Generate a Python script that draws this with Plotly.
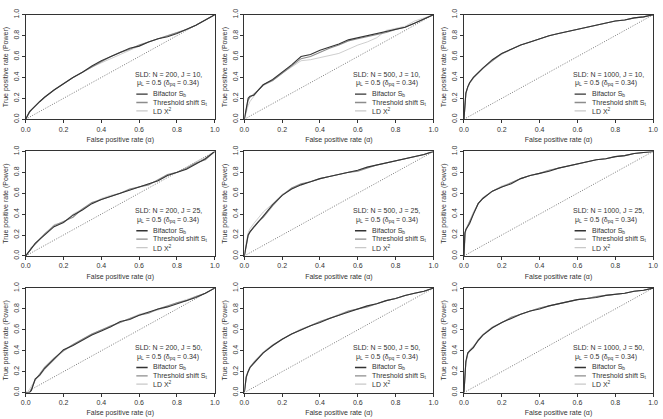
import plotly.graph_objects as go

# Shared false-positive-rate grid
FPR = [0, 0.005, 0.01, 0.02, 0.03, 0.05, 0.075, 0.1, 0.15, 0.2, 0.25, 0.3, 0.35,
       0.4, 0.45, 0.5, 0.55, 0.6, 0.65, 0.7, 0.75, 0.8, 0.85, 0.9, 0.95, 1.0]

N_VALUES = [200, 500, 1000]
J_VALUES = [10, 25, 50]

# TPR per panel (row = J, col = N), series: Bifactor, Threshold shift, LD X2
BF_200_10 = [0, 0.02, 0.04, 0.07, 0.09, 0.13, 0.17, 0.21, 0.28, 0.34, 0.40, 0.45, 0.51, 0.56, 0.60, 0.64, 0.68, 0.70, 0.74, 0.77, 0.79, 0.82, 0.86, 0.90, 0.95, 1]
TS_200_10 = [0, 0.02, 0.04, 0.07, 0.09, 0.13, 0.17, 0.21, 0.28, 0.34, 0.40, 0.45, 0.50, 0.55, 0.60, 0.64, 0.67, 0.71, 0.74, 0.77, 0.80, 0.83, 0.86, 0.90, 0.95, 1]
LD_200_10 = [0, 0.02, 0.04, 0.06, 0.09, 0.12, 0.17, 0.21, 0.28, 0.34, 0.40, 0.45, 0.50, 0.54, 0.58, 0.62, 0.66, 0.70, 0.74, 0.77, 0.80, 0.83, 0.86, 0.90, 0.95, 1]

BF_500_10 = [0, 0.06, 0.12, 0.20, 0.22, 0.23, 0.28, 0.33, 0.38, 0.45, 0.52, 0.60, 0.62, 0.66, 0.69, 0.72, 0.76, 0.78, 0.80, 0.82, 0.84, 0.86, 0.88, 0.92, 0.96, 1]
TS_500_10 = [0, 0.05, 0.10, 0.18, 0.21, 0.24, 0.28, 0.33, 0.37, 0.44, 0.51, 0.58, 0.60, 0.64, 0.68, 0.71, 0.75, 0.77, 0.79, 0.81, 0.83, 0.86, 0.88, 0.92, 0.96, 1]
LD_500_10 = [0, 0.04, 0.08, 0.13, 0.17, 0.22, 0.28, 0.32, 0.37, 0.44, 0.50, 0.56, 0.57, 0.59, 0.61, 0.63, 0.67, 0.71, 0.74, 0.78, 0.85, 0.87, 0.89, 0.94, 0.97, 1]

BF_1000_10 = [0, 0.18, 0.25, 0.31, 0.35, 0.40, 0.45, 0.49, 0.57, 0.63, 0.67, 0.71, 0.74, 0.77, 0.80, 0.82, 0.84, 0.86, 0.88, 0.90, 0.92, 0.94, 0.95, 0.97, 0.98, 1]
TS_1000_10 = [0, 0.17, 0.25, 0.31, 0.35, 0.40, 0.45, 0.49, 0.56, 0.63, 0.67, 0.71, 0.74, 0.77, 0.80, 0.82, 0.84, 0.86, 0.88, 0.90, 0.92, 0.94, 0.95, 0.97, 0.98, 1]
LD_1000_10 = [0, 0.16, 0.24, 0.30, 0.34, 0.39, 0.44, 0.48, 0.56, 0.62, 0.67, 0.71, 0.74, 0.77, 0.80, 0.82, 0.84, 0.86, 0.88, 0.90, 0.92, 0.94, 0.95, 0.97, 0.98, 1]

BF_200_25 = [0, 0.01, 0.03, 0.05, 0.07, 0.12, 0.16, 0.20, 0.28, 0.32, 0.39, 0.44, 0.50, 0.54, 0.57, 0.60, 0.63, 0.66, 0.69, 0.72, 0.77, 0.80, 0.83, 0.88, 0.93, 1]
TS_200_25 = [0, 0.01, 0.03, 0.05, 0.08, 0.11, 0.16, 0.21, 0.29, 0.33, 0.37, 0.45, 0.51, 0.54, 0.57, 0.60, 0.64, 0.66, 0.68, 0.73, 0.78, 0.80, 0.84, 0.89, 0.92, 1]
LD_200_25 = [0, 0.01, 0.02, 0.04, 0.07, 0.12, 0.17, 0.20, 0.30, 0.32, 0.40, 0.45, 0.50, 0.55, 0.58, 0.60, 0.63, 0.66, 0.69, 0.72, 0.77, 0.80, 0.84, 0.90, 0.94, 1]

BF_500_25 = [0, 0.06, 0.12, 0.20, 0.23, 0.27, 0.32, 0.38, 0.49, 0.58, 0.64, 0.68, 0.71, 0.74, 0.76, 0.78, 0.80, 0.82, 0.85, 0.87, 0.89, 0.91, 0.93, 0.95, 0.97, 1]
TS_500_25 = [0, 0.05, 0.10, 0.19, 0.23, 0.28, 0.33, 0.37, 0.48, 0.58, 0.65, 0.69, 0.71, 0.74, 0.76, 0.78, 0.80, 0.81, 0.84, 0.87, 0.89, 0.91, 0.93, 0.95, 0.97, 1]
LD_500_25 = [0, 0.07, 0.13, 0.22, 0.26, 0.31, 0.36, 0.42, 0.50, 0.59, 0.64, 0.68, 0.71, 0.74, 0.76, 0.78, 0.80, 0.82, 0.85, 0.87, 0.89, 0.91, 0.93, 0.95, 0.97, 1]

BF_1000_25 = [0, 0.22, 0.25, 0.28, 0.31, 0.40, 0.50, 0.55, 0.62, 0.66, 0.69, 0.74, 0.77, 0.79, 0.81, 0.84, 0.86, 0.88, 0.90, 0.92, 0.93, 0.95, 0.96, 0.98, 0.99, 1]
TS_1000_25 = [0, 0.21, 0.25, 0.29, 0.32, 0.41, 0.50, 0.55, 0.62, 0.66, 0.70, 0.74, 0.77, 0.79, 0.82, 0.84, 0.86, 0.88, 0.90, 0.92, 0.93, 0.95, 0.96, 0.98, 0.99, 1]
LD_1000_25 = [0, 0.20, 0.26, 0.29, 0.33, 0.42, 0.50, 0.56, 0.62, 0.67, 0.70, 0.74, 0.77, 0.79, 0.82, 0.84, 0.86, 0.88, 0.90, 0.92, 0.93, 0.95, 0.96, 0.98, 0.99, 1]

BF_200_50 = [0, 0, 0, 0, 0.02, 0.13, 0.17, 0.23, 0.32, 0.41, 0.45, 0.50, 0.55, 0.59, 0.63, 0.68, 0.70, 0.74, 0.77, 0.80, 0.82, 0.85, 0.88, 0.91, 0.95, 1]
TS_200_50 = [0, 0, 0, 0, 0.03, 0.12, 0.18, 0.24, 0.33, 0.40, 0.46, 0.51, 0.56, 0.60, 0.64, 0.67, 0.71, 0.74, 0.76, 0.80, 0.83, 0.86, 0.88, 0.92, 0.95, 1]
LD_200_50 = [0, 0, 0, 0.03, 0.06, 0.12, 0.16, 0.22, 0.31, 0.40, 0.45, 0.51, 0.56, 0.60, 0.63, 0.67, 0.71, 0.75, 0.77, 0.79, 0.82, 0.86, 0.89, 0.92, 0.95, 1]

BF_500_50 = [0, 0.08, 0.15, 0.20, 0.24, 0.28, 0.33, 0.38, 0.45, 0.51, 0.56, 0.60, 0.64, 0.67, 0.71, 0.74, 0.77, 0.80, 0.83, 0.85, 0.88, 0.90, 0.93, 0.95, 0.97, 1]
TS_500_50 = [0, 0.07, 0.14, 0.20, 0.24, 0.29, 0.34, 0.38, 0.45, 0.51, 0.56, 0.60, 0.64, 0.68, 0.71, 0.74, 0.78, 0.80, 0.82, 0.85, 0.88, 0.90, 0.93, 0.95, 0.97, 1]
LD_500_50 = [0, 0.09, 0.16, 0.21, 0.25, 0.29, 0.34, 0.39, 0.46, 0.51, 0.56, 0.61, 0.64, 0.68, 0.71, 0.75, 0.78, 0.80, 0.83, 0.85, 0.88, 0.90, 0.93, 0.95, 0.97, 1]

BF_1000_50 = [0, 0.20, 0.30, 0.38, 0.40, 0.43, 0.50, 0.55, 0.62, 0.67, 0.71, 0.75, 0.78, 0.80, 0.83, 0.85, 0.87, 0.89, 0.90, 0.91, 0.93, 0.94, 0.95, 0.97, 0.98, 1]
TS_1000_50 = [0, 0.19, 0.29, 0.37, 0.40, 0.44, 0.50, 0.55, 0.62, 0.67, 0.72, 0.75, 0.78, 0.81, 0.83, 0.85, 0.87, 0.89, 0.90, 0.92, 0.93, 0.94, 0.95, 0.97, 0.98, 1]
LD_1000_50 = [0, 0.18, 0.28, 0.37, 0.41, 0.44, 0.51, 0.56, 0.63, 0.67, 0.72, 0.75, 0.78, 0.81, 0.83, 0.85, 0.87, 0.89, 0.90, 0.92, 0.93, 0.94, 0.95, 0.97, 0.98, 1]

PANELS = {
    (10, 200): (BF_200_10, TS_200_10, LD_200_10),
    (10, 500): (BF_500_10, TS_500_10, LD_500_10),
    (10, 1000): (BF_1000_10, TS_1000_10, LD_1000_10),
    (25, 200): (BF_200_25, TS_200_25, LD_200_25),
    (25, 500): (BF_500_25, TS_500_25, LD_500_25),
    (25, 1000): (BF_1000_25, TS_1000_25, LD_1000_25),
    (50, 200): (BF_200_50, TS_200_50, LD_200_50),
    (50, 500): (BF_500_50, TS_500_50, LD_500_50),
    (50, 1000): (BF_1000_50, TS_1000_50, LD_1000_50),
}

SERIES_NAMES = ["Bifactor S<sub>b</sub>", "Threshold shift S<sub>t</sub>", "LD X<sup>2</sup>"]
SERIES_COLORS = ["#333333", "#8c8c8c", "#c8c8c8"]
SERIES_WIDTHS = [1.1, 1.1, 0.9]

TICKS = [0.0, 0.2, 0.4, 0.6, 0.8, 1.0]
TICK_TEXT = ["0.0", "0.2", "0.4", "0.6", "0.8", "1.0"]

W, H = 663, 419
COL_PX = [(21, 213), (243, 435), (466, 658)]
ROW_PX = [(9, 116), (149, 256), (289, 396)]

FONT = "Liberation Sans, Arial, sans-serif"
TXT = "#333333"

fig = go.Figure()
annotations = []
shapes = []

idx = 0
for r, J in enumerate(J_VALUES):
    for c, N in enumerate(N_VALUES):
        idx += 1
        sx = "" if idx == 1 else str(idx)
        xa, ya = "x" + sx, "y" + sx
        x0, x1 = COL_PX[c]
        y0, y1 = ROW_PX[r]
        fig.layout["xaxis" + sx] = dict(
            domain=[x0 / W, x1 / W], anchor=ya, range=[0, 1],
            tickvals=TICKS, ticktext=TICK_TEXT, ticks="outside", ticklen=3,
            tickwidth=0.8, tickcolor="#333", showline=True, mirror=True,
            linecolor="#333", linewidth=1, showgrid=False, zeroline=False,
            tickfont=dict(size=7, color=TXT, family=FONT),
            title=dict(text="False positive rate (α)", font=dict(size=7, color=TXT, family=FONT), standoff=5),
        )
        fig.layout["yaxis" + sx] = dict(
            domain=[1 - y1 / H, 1 - y0 / H], anchor=xa, range=[0, 1],
            tickvals=TICKS, ticktext=TICK_TEXT, ticks="outside", ticklen=3,
            tickwidth=0.8, tickcolor="#333", showline=True, mirror=True,
            linecolor="#333", linewidth=1, showgrid=False, zeroline=False,
            tickangle=-90,
            tickfont=dict(size=7, color=TXT, family=FONT),
            title=dict(text="True positive rate (Power)", font=dict(size=7, color=TXT, family=FONT), standoff=3),
        )
        # diagonal reference
        fig.add_trace(go.Scatter(x=[0, 1], y=[0, 1], mode="lines", xaxis=xa, yaxis=ya,
                                 line=dict(color="#444", width=0.7, dash="1px,1.5px"),
                                 showlegend=False, hoverinfo="skip"))
        series = PANELS[(J, N)]
        for k in [2, 1, 0]:
            fig.add_trace(go.Scatter(x=FPR, y=series[k], mode="lines", xaxis=xa, yaxis=ya,
                                     line=dict(color=SERIES_COLORS[k], width=SERIES_WIDTHS[k]),
                                     name=SERIES_NAMES[k], showlegend=False))
        # panel text
        annotations.append(dict(x=0.565, y=0.43, xref=xa, yref=ya, xanchor="left", yanchor="middle",
                                text=f"SLD: N = {N}, J = {J},", showarrow=False,
                                font=dict(size=7, color=TXT, family=FONT)))
        annotations.append(dict(x=0.578, y=0.345, xref=xa, yref=ya, xanchor="left", yanchor="middle",
                                text="μ<sub>L</sub> = 0.5 (δ<sub>pq</sub> = 0.34)", showarrow=False,
                                font=dict(size=7, color=TXT, family=FONT)))
        for k, ly in enumerate([0.24, 0.16, 0.08]):
            shapes.append(dict(type="line", xref=xa, yref=ya, x0=0.585, x1=0.645, y0=ly, y1=ly,
                               line=dict(color=SERIES_COLORS[k], width=SERIES_WIDTHS[k] + 0.3)))
            annotations.append(dict(x=0.665, y=ly, xref=xa, yref=ya, xanchor="left", yanchor="middle",
                                    text=SERIES_NAMES[k], showarrow=False,
                                    font=dict(size=7, color=TXT, family=FONT)))

fig.update_layout(
    width=W, height=H, margin=dict(l=0, r=0, t=0, b=0),
    paper_bgcolor="white", plot_bgcolor="white",
    showlegend=False, annotations=annotations, shapes=shapes,
    font=dict(family=FONT, size=7, color=TXT),
)

fig.write_html("out.html")
